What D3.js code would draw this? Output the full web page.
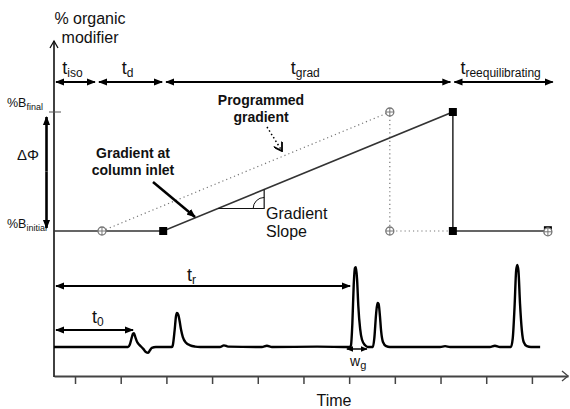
<!DOCTYPE html>
<html>
<head>
<meta charset="utf-8">
<script src="https://cdn.jsdelivr.net/npm/d3@7"></script>
<style>
  body { margin: 0; background: #fff; }
  text { font-family: "Liberation Sans", Arial, sans-serif; fill: #111; }
</style>
</head>
<body>
<svg id="chart" width="570" height="409"></svg>
<script>
// time phases shown along the top (times in arbitrary units)
var phaseNames = ["iso", "d", "grad", "reequilibrating"]
var phaseBounds = [-0.46, 0.48, 1.95, 8.26, 10.5]

// % organic modifier levels
var bInitial = 20
var bFinal = 80

// gradient actually reaching the column inlet
var actualGradient = [[-0.46, 20], [1.93, 20], [8.27, 80], [8.27, 20], [10.35, 20]]
var actualSquares = [[1.93, 20], [8.27, 80], [8.27, 20], [10.35, 20.4]]

// programmed gradient (dotted)
var programmedGradient = [[0.59, 20], [6.89, 80], [6.89, 20], [8.27, 20]]
var programmedCircles = [[0.59, 20], [6.89, 80], [6.89, 20], [10.35, 19.6]]

var slopeTimes = [3.13, 4.14]
var timeTicks = [0, 1, 2, 3, 4, 5, 6, 7, 8, 9, 10]

var tR = 6.02
var t0 = 1.27
var wG = [5.95, 6.39]

// detector trace: [time, signal]
var chromatogram = [
    [-0.46, 0], [1.16, 0], [1.20, 3], [1.24, 11], [1.27, 16], [1.29, 16.5], [1.32, 12], [1.36, 6],
    [1.42, 2], [1.49, -2], [1.55, -6], [1.60, -7], [1.64, -4], [1.68, -1], [1.77, 0],
    [2.12, 0], [2.14, 2], [2.18, 20], [2.21, 37], [2.23, 41], [2.26, 39], [2.29, 31], [2.32, 21],
    [2.36, 12], [2.43, 5], [2.52, 2], [2.63, 0.5], [2.74, 0],
    [3.17, 0], [3.26, 2], [3.35, 0.5], [4.09, 0], [4.20, 1.5], [4.31, 0],
    [5.30, 0.4], [6.02, 0], [6.04, 2], [6.07, 28], [6.10, 75], [6.125, 95], [6.15, 96], [6.175, 80],
    [6.20, 50], [6.24, 22], [6.28, 9], [6.35, 2], [6.41, 0],
    [6.52, 0], [6.55, 10], [6.59, 40], [6.62, 53], [6.645, 52], [6.67, 40], [6.70, 19], [6.74, 6],
    [6.81, 1], [6.89, 0], [7.99, 0], [8.10, 1], [8.21, 0], [9.08, 0], [9.19, 1.5], [9.30, 0],
    [9.54, 0], [9.58, 10], [9.62, 48], [9.655, 92], [9.68, 99], [9.705, 92], [9.74, 52],
    [9.78, 20], [9.82, 6], [9.89, 1], [9.98, 0], [10.18, 0]
]

var svg = d3.select("#chart")

var x = d3.scaleLinear().domain([-0.46, 10.79]).range([54, 568])
var yB = d3.scaleLinear().domain([bInitial, bFinal]).range([231, 112])
var yS = d3.scaleLinear().domain([0, 100]).range([347, 264])

var axisY = 376
var arrowY = 82

var defs = svg.append("defs")
function addHead(id, size) {
    defs.append("marker")
        .attr("id", id)
        .attr("viewBox", "0 0 10 10")
        .attr("refX", 9)
        .attr("refY", 5)
        .attr("markerWidth", size)
        .attr("markerHeight", size)
        .attr("markerUnits", "userSpaceOnUse")
        .attr("orient", "auto-start-reverse")
        .append("path")
        .attr("d", "M0,1 L10,5 L0,9 z")
        .attr("fill", "#000")
}
addHead("head", 9)
addHead("headSmall", 7)

defs.append("marker")
    .attr("id", "vhead")
    .attr("viewBox", "0 0 10 10")
    .attr("refX", 9)
    .attr("refY", 5)
    .attr("markerWidth", 10)
    .attr("markerHeight", 10)
    .attr("markerUnits", "userSpaceOnUse")
    .attr("orient", "auto")
    .append("path")
    .attr("d", "M1,0 L9,5 L1,10")
    .attr("fill", "none")
    .attr("stroke", "#000")
    .attr("stroke-width", 1.8)

function arrow(x1, y1, x2, y2, width, both, head) {
    var l = svg.append("line")
        .attr("x1", x1).attr("y1", y1)
        .attr("x2", x2).attr("y2", y2)
        .attr("stroke", "#000")
        .attr("stroke-width", width)
        .attr("marker-end", "url(#" + (head || "head") + ")")
    if (both) l.attr("marker-start", "url(#" + (head || "head") + ")")
    return l
}

function subText(px, py, main, sub, size, subSize, anchor) {
    var t = svg.append("text")
        .attr("x", px)
        .attr("y", py)
        .attr("text-anchor", anchor || "start")
        .style("font-size", size + "px")
    t.append("tspan").text(main)
    t.append("tspan").attr("dy", 3).style("font-size", subSize + "px").text(sub)
    return t
}

// axes
var xAxis = d3.axisBottom(x)
    .tickValues(timeTicks)
    .tickSize(8)
    .tickSizeOuter(0)
    .tickFormat("")

var gx = svg.append("g")
    .attr("transform", "translate(0," + axisY + ")")
    .call(xAxis)
gx.select(".domain").attr("stroke", "#444").attr("stroke-width", 2)
gx.selectAll(".tick line").attr("stroke", "#444").attr("stroke-width", 1.5)

svg.append("path")
    .attr("d", "M" + (x.range()[1] - 6) + "," + (axisY - 5) + " L" + x.range()[1] + "," + axisY +
        " L" + (x.range()[1] - 6) + "," + (axisY + 5))
    .attr("fill", "none")
    .attr("stroke", "#444")
    .attr("stroke-width", 1.3)

svg.append("line")
    .attr("x1", x(-0.46)).attr("x2", x(-0.46))
    .attr("y1", 41).attr("y2", axisY + 1)
    .attr("stroke", "#111")
    .attr("stroke-width", 1.6)
svg.append("path")
    .attr("d", "M" + (x(-0.46) - 4) + ",48 L" + x(-0.46) + ",41 L" + (x(-0.46) + 4) + ",48")
    .attr("fill", "none")
    .attr("stroke", "#111")
    .attr("stroke-width", 1.3)

svg.append("line")
    .attr("x1", 49).attr("x2", 61)
    .attr("y1", yB(bFinal)).attr("y2", yB(bFinal))
    .attr("stroke", "#555")
    .attr("stroke-width", 1)

svg.append("text").attr("x", 90).attr("y", 24).attr("text-anchor", "middle")
    .style("font-size", "16px").text("% organic")
svg.append("text").attr("x", 90).attr("y", 43).attr("text-anchor", "middle")
    .style("font-size", "16px").text("modifier")

subText(7, yB(bFinal) - 5, "%B", "final", 12.5, 9)
subText(7, yB(bInitial) - 3, "%B", "initial", 12.5, 9)

// delta phi
arrow(46.5, (yB(bFinal) + yB(bInitial)) / 2, 46.5, yB(bFinal) + 5, 2.6, false)
arrow(46.5, (yB(bFinal) + yB(bInitial)) / 2, 46.5, yB(bInitial) - 3, 2.6, false)
svg.append("text").attr("x", 17).attr("y", 160)
    .style("font-size", "15px").text("\u0394\u03A6")

// top phase arrows
phaseNames.forEach(function (name, i) {
    var a = x(phaseBounds[i]) + 1
    var b = x(phaseBounds[i + 1]) - 1
    arrow(a + 1, arrowY, b - 1, arrowY, 2, true)
    subText((a + b) / 2 - 3, 74, "t", name, 18, 12, "middle")
})

// programmed gradient (dotted)
var line = d3.line()
    .x(function (d) { return x(d[0]) })
    .y(function (d) { return yB(d[1]) })

svg.append("path")
    .attr("d", line(programmedGradient))
    .attr("fill", "none")
    .attr("stroke", "#777")
    .attr("stroke-width", 1.2)
    .attr("stroke-dasharray", "1.2,3")

// actual gradient
svg.append("path")
    .attr("d", line(actualGradient))
    .attr("fill", "none")
    .attr("stroke", "#333")
    .attr("stroke-width", 1.6)

// slope triangle
function gradAt(t) {
    return bInitial + (t - actualGradient[1][0]) * (bFinal - bInitial) / (actualGradient[2][0] - actualGradient[1][0])
}
var yFlat = yB(gradAt(slopeTimes[0]))
var cx = x(slopeTimes[1])
svg.append("path")
    .attr("d", "M" + x(slopeTimes[0]) + "," + yFlat + " L" + cx + "," + yFlat + " L" + cx + "," + yB(gradAt(slopeTimes[1])))
    .attr("fill", "none")
    .attr("stroke", "#111")
    .attr("stroke-width", 1.2)
svg.append("path")
    .attr("d", "M" + (cx - 11) + "," + yFlat + " A11,11 0 0 1 " + cx + "," + (yFlat - 11))
    .attr("fill", "none")
    .attr("stroke", "#111")
    .attr("stroke-width", 1)

svg.selectAll(".sq")
    .data(actualSquares)
    .enter()
    .append("rect")
    .attr("class", "sq")
    .attr("x", function (d) { return x(d[0]) - 4 })
    .attr("y", function (d) { return yB(d[1]) - 4 })
    .attr("width", 8)
    .attr("height", 8)
    .attr("fill", "#000")

var circ = svg.selectAll(".circ")
    .data(programmedCircles)
    .enter()
    .append("g")
    .attr("class", "circ")
    .attr("transform", function (d) { return "translate(" + x(d[0]) + "," + yB(d[1]) + ")" })
circ.append("circle").attr("r", 4).attr("fill", "#fff").attr("stroke", "#777").attr("stroke-width", 1.3)
circ.append("path").attr("d", "M-4,0 L4,0 M0,-4 L0,4").attr("stroke", "#777").attr("stroke-width", 1)

// annotations
svg.append("text").attr("x", 261).attr("y", 105).attr("text-anchor", "middle")
    .style("font-size", "14px").style("font-weight", "bold").text("Programmed")
svg.append("text").attr("x", 261).attr("y", 122).attr("text-anchor", "middle")
    .style("font-size", "14px").style("font-weight", "bold").text("gradient")
svg.append("line")
    .attr("x1", 267).attr("y1", 127).attr("x2", 282).attr("y2", 151)
    .attr("stroke", "#000").attr("stroke-width", 1.5)
    .attr("stroke-dasharray", "1.5,2.5")
    .attr("marker-end", "url(#vhead)")

svg.append("text").attr("x", 133).attr("y", 158).attr("text-anchor", "middle")
    .style("font-size", "14px").style("font-weight", "bold").text("Gradient at")
svg.append("text").attr("x", 133).attr("y", 175).attr("text-anchor", "middle")
    .style("font-size", "14px").style("font-weight", "bold").text("column inlet")
arrow(153, 182, 195, 217, 2.5, false)

svg.append("text").attr("x", 266).attr("y", 219)
    .style("font-size", "16px").text("Gradient")
svg.append("text").attr("x", 266).attr("y", 237)
    .style("font-size", "16px").text("Slope")

// chromatogram
var trace = d3.line()
    .x(function (d) { return x(d[0]) })
    .y(function (d) { return yS(d[1]) })
    .curve(d3.curveMonotoneX)

svg.append("path")
    .attr("d", trace(chromatogram))
    .attr("fill", "none")
    .attr("stroke", "#000")
    .attr("stroke-width", 2.4)
    .attr("stroke-linejoin", "round")

arrow(x(-0.46) + 2, 286, x(tR), 286, 2, true)
subText(187, 281, "t", "r", 18, 12)

arrow(x(-0.46) + 2, 330, x(t0), 330, 2, true)
subText(92, 323, "t", "0", 18, 12)

arrow(x(wG[0]), 349, x(wG[1]), 349, 1.5, true, "headSmall")
subText(350, 366, "w", "g", 14, 11)

svg.append("text").attr("x", 334).attr("y", 406).attr("text-anchor", "middle")
    .style("font-size", "16px").text("Time")
</script>
</body>
</html>
